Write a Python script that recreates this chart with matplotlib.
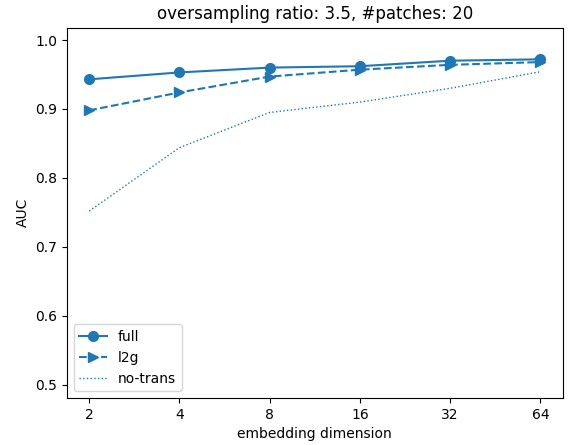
import matplotlib
matplotlib.use("Agg")
import matplotlib.pyplot as plt
import matplotlib.ticker as mticker

dims = [2, 4, 8, 16, 32, 64]
auc_full = [0.943, 0.953, 0.960, 0.962, 0.970, 0.972]
auc_l2g = [0.898, 0.924, 0.947, 0.957, 0.964, 0.968]
auc_notrans = [0.752, 0.844, 0.895, 0.910, 0.930, 0.954]

fig, ax = plt.subplots(figsize=(5.68, 4.45), dpi=100)
fig.subplots_adjust(left=0.1174, right=0.991, top=0.938, bottom=0.1056)

ax.plot(dims, auc_full, '-o', color='C0', markersize=7, label='full')
ax.plot(dims, auc_l2g, '-->', color='C0', markersize=7, label='l2g')
ax.plot(dims, auc_notrans, ':', color='C0', linewidth=1, label='no-trans')

ax.set_xscale('log', base=2)
ax.set_xticks(dims)
ax.xaxis.set_major_formatter(mticker.FixedFormatter([str(d) for d in dims]))
ax.xaxis.set_minor_locator(mticker.NullLocator())
ax.set_ylim(0.481, 1.018)
ax.set_yticks([0.5, 0.6, 0.7, 0.8, 0.9, 1.0])

ax.set_xlabel('embedding dimension')
ax.set_ylabel('AUC')
ax.set_title('oversampling ratio: 3.5, #patches: 20')
ax.legend(loc='lower left')

fig.savefig('out.png', dpi=100)
